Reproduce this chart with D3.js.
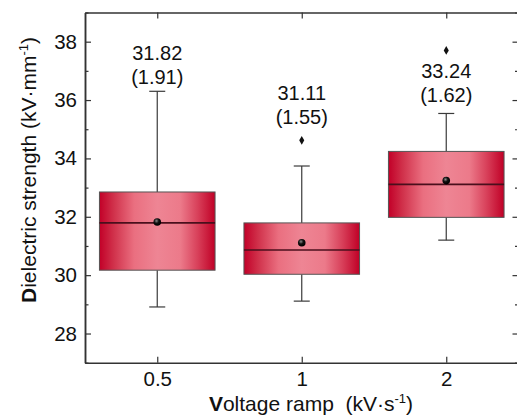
<!DOCTYPE html>
<html>
<head>
<meta charset="utf-8">
<script src="https://cdn.jsdelivr.net/npm/d3@7"></script>
<style>
  body { margin: 0; background: #fff; }
  text { font-family: "Liberation Sans", Arial, sans-serif; }
</style>
</head>
<body>
<script>
// data
var categories = ["0.5", "1", "2"];
var q1 = [30.17, 30.03, 31.98];
var medians = [31.79, 30.86, 33.11];
var q3 = [32.85, 31.79, 34.24];
var whiskerLow = [28.91, 29.11, 31.20];
var whiskerHigh = [36.30, 33.74, 35.54];
var means = [31.82, 31.11, 33.24];
var stdDevs = ["1.91", "1.55", "1.62"];
var outliers = [[], [34.62], [37.70]];
var yMajorTicks = [28, 30, 32, 34, 36, 38];
var yMinorTicks = [27, 29, 31, 33, 35, 37, 39];

var width = 517, height = 417;
var plotLeft = 85, plotRight = 518.5, plotTop = 12.5, plotBottom = 362.7;

var x = d3.scalePoint().domain(categories).range([plotLeft, plotRight]).padding(0.5);
var y = d3.scaleLinear().domain([27, 39]).range([plotBottom, plotTop]);
var boxW = x.step() * 0.8;

var svg = d3.select("body").append("svg")
    .attr("width", width)
    .attr("height", height);

var defs = svg.append("defs");
var grad = defs.append("linearGradient").attr("id", "boxFill")
    .attr("x1", "0%").attr("x2", "100%").attr("y1", "0%").attr("y2", "0%");
[[0, "#c20028"], [0.12, "#d0304a"], [0.3, "#ea6f80"], [0.5, "#ee8594"], [0.7, "#ec7a8a"], [0.85, "#d8405a"], [1, "#c00026"]]
  .forEach(function(s) { grad.append("stop").attr("offset", s[0]).attr("stop-color", s[1]); });

var dot = defs.append("radialGradient").attr("id", "meanDot")
    .attr("cx", "40%").attr("cy", "35%").attr("r", "60%");
dot.append("stop").attr("offset", 0).attr("stop-color", "#888");
dot.append("stop").attr("offset", 0.5).attr("stop-color", "#111");
dot.append("stop").attr("offset", 1).attr("stop-color", "#000");

// label y positions (first line baseline) — placed by eye
var labelY = [60, 100, 78];

// boxes
var g = svg.append("g");
categories.forEach(function(c, i) {
  var cx = x(c);
  // whiskers
  g.append("line").attr("x1", cx).attr("x2", cx)
      .attr("y1", y(whiskerHigh[i])).attr("y2", y(q3[i]))
      .attr("stroke", "#3a3a3a").attr("stroke-width", 1.2);
  g.append("line").attr("x1", cx).attr("x2", cx)
      .attr("y1", y(q1[i])).attr("y2", y(whiskerLow[i]))
      .attr("stroke", "#3a3a3a").attr("stroke-width", 1.2);
  [whiskerHigh[i], whiskerLow[i]].forEach(function(v) {
    g.append("line").attr("x1", cx - 8).attr("x2", cx + 8)
        .attr("y1", y(v)).attr("y2", y(v))
        .attr("stroke", "#3a3a3a").attr("stroke-width", 1.2);
  });
  g.append("rect")
      .attr("x", cx - boxW / 2).attr("width", boxW)
      .attr("y", y(q3[i])).attr("height", y(q1[i]) - y(q3[i]))
      .attr("fill", "url(#boxFill)")
      .attr("stroke", "#555").attr("stroke-width", 1);
  g.append("line").attr("x1", cx - boxW / 2).attr("x2", cx + boxW / 2)
      .attr("y1", y(medians[i])).attr("y2", y(medians[i]))
      .attr("stroke", "#4a0f1c").attr("stroke-width", 1.6);
  g.append("circle").attr("cx", cx).attr("cy", y(means[i])).attr("r", 3.8)
      .attr("fill", "url(#meanDot)");
  outliers[i].forEach(function(v) {
    g.append("path")
        .attr("d", d3.symbol().type(d3.symbolDiamond).size(22))
        .attr("transform", "translate(" + cx + "," + y(v) + ")")
        .attr("fill", "#111");
  });
  g.append("text").attr("x", cx).attr("y", labelY[i])
      .attr("text-anchor", "middle").attr("font-size", 20).attr("fill", "#111")
      .text(means[i].toFixed(2));
  g.append("text").attr("x", cx).attr("y", labelY[i] + 24)
      .attr("text-anchor", "middle").attr("font-size", 20).attr("fill", "#111")
      .text("(" + stdDevs[i] + ")");
});

// axes
var axisColor = "#333";
function styleAxis(sel) {
  sel.select(".domain").attr("stroke", axisColor).attr("stroke-width", 1.5);
  sel.selectAll(".tick line").attr("stroke", axisColor).attr("stroke-width", 1.2);
  sel.selectAll("text").attr("font-size", 20.5).attr("fill", "#111")
      .attr("font-family", "'Liberation Sans', Arial, sans-serif");
}

svg.append("g").attr("transform", "translate(" + plotLeft + ",0)")
    .call(d3.axisLeft(y).tickValues(yMajorTicks).tickSize(-6).tickPadding(8).tickSizeOuter(0))
    .call(styleAxis);
svg.append("g").attr("transform", "translate(" + plotLeft + ",0)")
    .call(d3.axisLeft(y).tickValues(yMinorTicks).tickSize(-3.5).tickFormat("").tickSizeOuter(0))
    .call(styleAxis);
svg.append("g").attr("transform", "translate(" + plotRight + ",0)")
    .call(d3.axisRight(y).tickValues(yMajorTicks).tickSize(-6).tickFormat("").tickSizeOuter(0))
    .call(styleAxis);
svg.append("g").attr("transform", "translate(" + plotRight + ",0)")
    .call(d3.axisRight(y).tickValues(yMinorTicks).tickSize(-3.5).tickFormat("").tickSizeOuter(0))
    .call(styleAxis);
svg.append("g").attr("transform", "translate(0," + plotBottom + ")")
    .call(d3.axisBottom(x).tickSize(-6).tickPadding(9).tickSizeOuter(0))
    .call(styleAxis);
svg.append("g").attr("transform", "translate(0," + plotTop + ")")
    .call(d3.axisTop(x).tickSize(-6).tickFormat("").tickSizeOuter(0))
    .call(styleAxis);

// axis titles
var yt = svg.append("text")
    .attr("transform", "translate(36,170) rotate(-90)")
    .attr("text-anchor", "middle").attr("font-size", 21).attr("fill", "#111");
yt.append("tspan").attr("font-weight", "bold").text("D");
yt.append("tspan").text("ielectric strength (kV\u00b7mm");
yt.append("tspan").attr("font-size", 13).attr("dy", -8).text("-1");
yt.append("tspan").attr("dy", 8).text(")");

var xt = svg.append("text")
    .attr("x", 311).attr("y", 411)
    .attr("text-anchor", "middle").attr("font-size", 21).attr("fill", "#111")
    .attr("xml:space", "preserve");
xt.append("tspan").attr("font-weight", "bold").text("V");
xt.append("tspan").text("oltage ramp  (kV\u00b7s");
xt.append("tspan").attr("font-size", 13).attr("dy", -8).text("-1");
xt.append("tspan").attr("dy", 8).text(")");
</script>
</body>
</html>
